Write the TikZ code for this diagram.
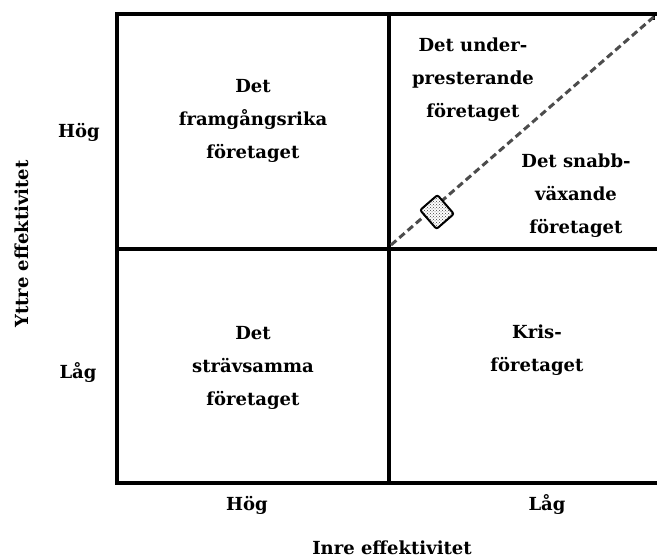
\documentclass[tikz,border=0pt]{standalone}
\usepackage{fontspec}
\setmainfont{DejaVu Serif}
\usetikzlibrary{patterns}
\begin{document}
\begin{tikzpicture}[x=1pt,y=-1pt,
  frame/.style={line width=3.2pt,line cap=rect},
  lbl/.style={font=\fontsize{18}{33}\selectfont\bfseries,inner sep=0pt,align=center},
  diag/.style={line width=3pt,color=black!70,dash pattern=on 7pt off 4pt},
  marker/.style={draw=black,line width=2pt,preaction={fill=white},pattern=crosshatch dots,pattern color=black!75,minimum width=23pt,minimum height=25pt,rounded corners=2pt,inner sep=0pt}]
\useasboundingbox (0,0) rectangle (657,560);
% frame
\draw[frame] (117,483) -- (117,14) -- (655,14);
\draw[line width=2pt] (654,14) -- (654,20);
\draw[frame] (117,483) -- (657,483);
\draw[frame] (389,14) -- (389,483);
\draw[frame] (117,249) -- (657,249);
% diagonal
\coordinate (d0) at (391,245);
\coordinate (d1) at (656,15);
\draw[diag] (d0) -- (d1);
\node[marker,rotate=41] (mk) at (437,212) {};
% quadrant labels
\node[lbl] (tl) at (253,121) {Det\\framgångsrika\\företaget};
\node[lbl] (tru) at (473,80) {Det under-\\presterande\\företaget};
\node[lbl] (trl) at (576,196) {Det snabb-\\växande\\företaget};
\node[lbl] (bl) at (253,368) {Det\\strävsamma\\företaget};
\node[lbl] (br) at (537,350) {Kris-\\företaget};
% axis labels
\node[lbl] (yh) at (79,132) {Hög};
\node[lbl] (yl) at (78,373) {Låg};
\node[lbl,rotate=90] (yt) at (22,244) {Yttre effektivitet};
\node[lbl] (xh) at (247,505) {Hög};
\node[lbl] (xl) at (547,505) {Låg};
\node[lbl] (xt) at (392,548) {Inre effektivitet};
\end{tikzpicture}
\end{document}
